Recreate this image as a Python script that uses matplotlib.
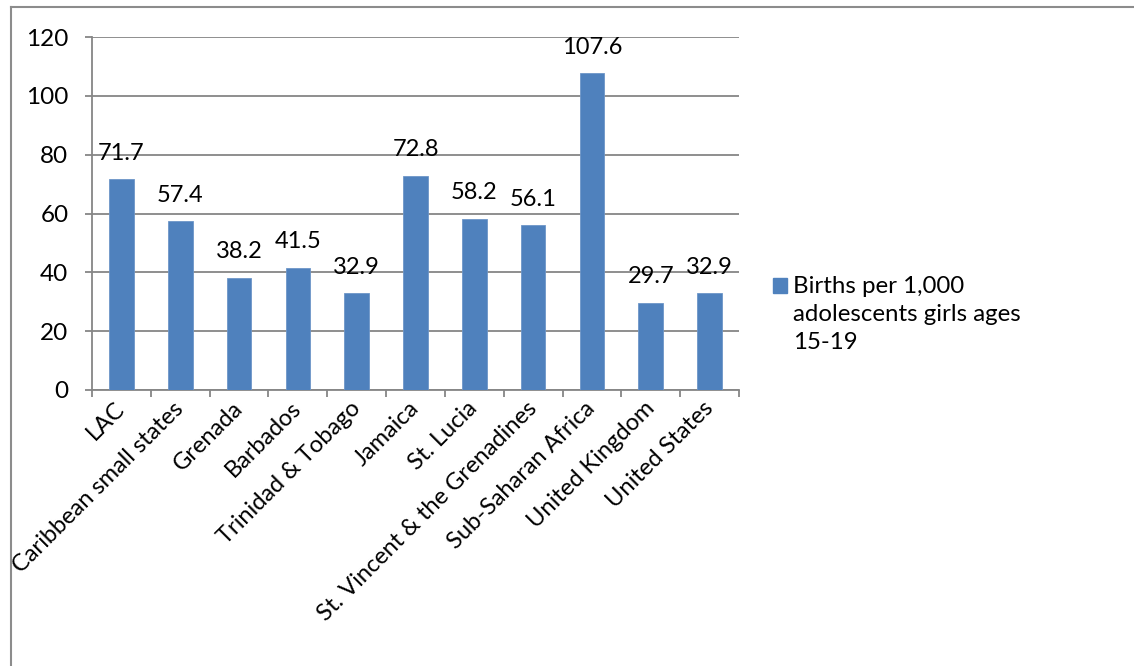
import matplotlib
matplotlib.use("Agg")
import matplotlib.pyplot as plt
from matplotlib.lines import Line2D
from matplotlib.patches import Rectangle
import numpy as np

plt.rcParams['font.family'] = ['Lato', 'DejaVu Sans']

countries = ["LAC", "Caribbean small states", "Grenada", "Barbados",
             "Trinidad & Tobago", "Jamaica", "St. Lucia",
             "St. Vincent & the Grenadines", "Sub-Saharan Africa",
             "United Kingdom", "United States"]
births = [71.7, 57.4, 38.2, 41.5, 32.9, 72.8, 58.2, 56.1, 107.6, 29.7, 32.9]
series_name = "Births per 1,000\nadolescents girls ages\n15-19"

bar_color = "#4F81BD"
grid_color = "#868686"

fig = plt.figure(figsize=(11.34, 6.66), dpi=100)
ax = fig.add_axes([92 / 1134, 1 - 390 / 666, 647 / 1134, 353 / 666])

x = np.arange(len(countries))
bars = ax.bar(x, births, width=0.42, color=bar_color, edgecolor="#6d96c8",
              linewidth=0.6, zorder=3)

for b, v in zip(bars, births):
    ax.annotate("{:.1f}".format(v), (b.get_x() + b.get_width() / 2, v),
                xytext=(0, 14), textcoords="offset points",
                ha="center", va="baseline", fontsize=17, color="black")

ax.set_xlim(-0.5, len(countries) - 0.5)
ax.set_ylim(0, 120)
ax.set_yticks(range(0, 121, 20))
ax.yaxis.grid(True, color=grid_color, linewidth=1.3, zorder=0)
ax.set_axisbelow(True)

ax.set_xticks(x)
ax.set_xticklabels(countries, rotation=45, ha="right", va="center",
                   rotation_mode="anchor", fontsize=17)
ax.set_xticks(np.arange(-0.5, len(countries)), minor=True)
ax.tick_params(axis="x", which="major", length=0, pad=11)
ax.tick_params(axis="x", which="minor", length=5, width=1.3, color=grid_color)
ax.tick_params(axis="y", length=5, width=1.3, color=grid_color, labelsize=17.5,
               pad=12)

for side in ("top", "right"):
    ax.spines[side].set_visible(False)
for side in ("left", "bottom"):
    ax.spines[side].set_color(grid_color)
    ax.spines[side].set_linewidth(1.3)

# legend drawn by hand so the swatch sits on the first text line
fig.add_artist(Rectangle((773 / 1134, 1 - 293 / 666), 14 / 1134, 15 / 666,
                         transform=fig.transFigure, color=bar_color))
fig.text(793 / 1134, 1 - 276 / 666, series_name, fontsize=17.3,
         va="top", ha="left", linespacing=1.42)

# outer chart frame
fig.add_artist(Line2D([10.5 / 1134, 1], [1 - 6.5 / 666, 1 - 6.5 / 666],
                      transform=fig.transFigure, color="#8c8c8c", linewidth=1.5))
fig.add_artist(Line2D([10.5 / 1134, 10.5 / 1134], [0, 1 - 6.5 / 666],
                      transform=fig.transFigure, color="#8c8c8c", linewidth=1.5))

fig.savefig("out.png", dpi=100)
